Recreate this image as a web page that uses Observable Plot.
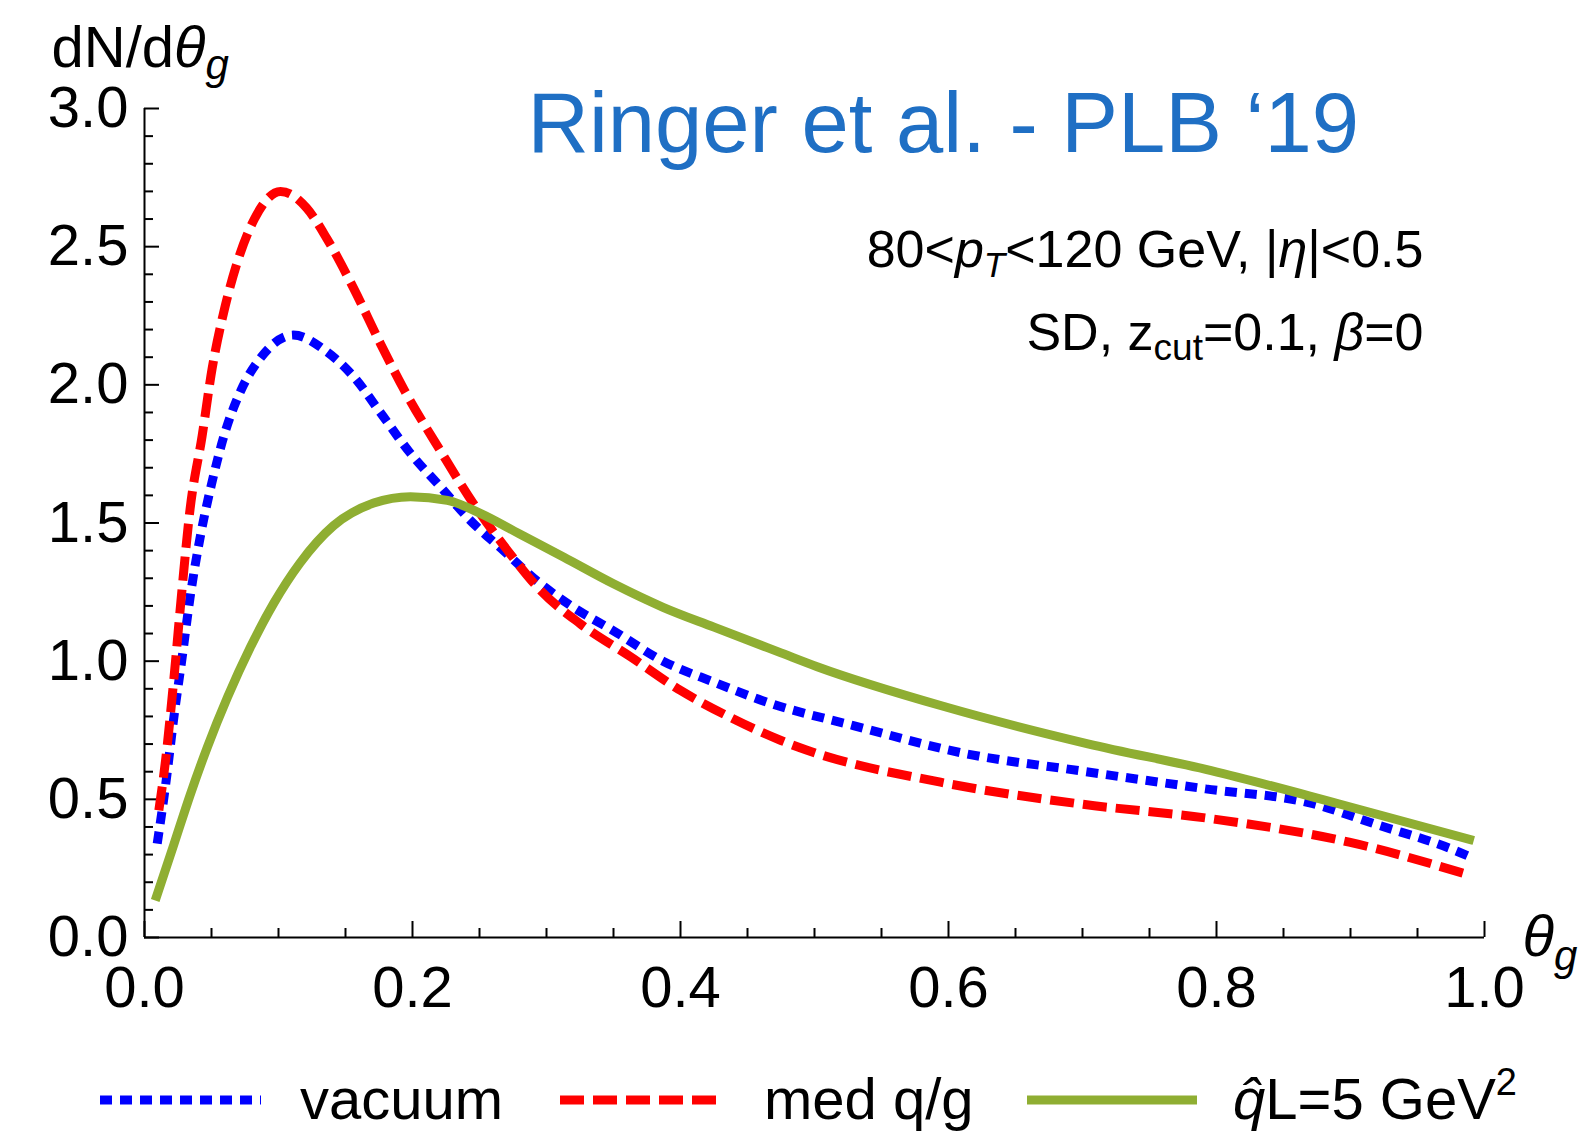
<!DOCTYPE html>
<html>
<head>
<meta charset="utf-8">
<script src="https://cdn.jsdelivr.net/npm/d3@7"></script>
<script src="https://cdn.jsdelivr.net/npm/@observablehq/plot@0.6"></script>
<style>
html, body { margin: 0; padding: 0; background: #fff; width: 1593px; height: 1133px; overflow: hidden; }
body { font-family: "Liberation Sans", Arial, Helvetica, sans-serif; }
#chart svg, #legend svg { display: block; }
</style>
</head>
<body>
<div id="chart"></div>
<div id="legend"></div>
<script>
// ---- data ----
const thetaVac = [0.0095, 0.0157, 0.022, 0.028, 0.034, 0.042, 0.050, 0.059, 0.072, 0.087, 0.111, 0.136, 0.156, 0.176, 0.198, 0.221, 0.243, 0.268, 0.293, 0.320, 0.350, 0.387, 0.425, 0.468, 0.529, 0.613, 0.697, 0.792, 0.872, 0.918, 0.978, 0.990];
const vacuum   = [0.34, 0.55, 0.80, 1.01, 1.23, 1.46, 1.64, 1.81, 1.98, 2.10, 2.18, 2.12, 2.03, 1.90, 1.755, 1.63, 1.51, 1.40, 1.29, 1.195, 1.11, 1.00, 0.924, 0.846, 0.767, 0.665, 0.604, 0.538, 0.484, 0.411, 0.315, 0.29];

const thetaMed = [0.0107, 0.0157, 0.022, 0.028, 0.034, 0.043, 0.0505, 0.059, 0.069, 0.082, 0.1015, 0.121, 0.136, 0.156, 0.176, 0.194, 0.221, 0.2455, 0.271, 0.2955, 0.325, 0.363, 0.400, 0.437, 0.475, 0.495, 0.594, 0.697, 0.796, 0.899, 0.990];
const medQG    = [0.46, 0.64, 0.94, 1.26, 1.55, 1.815, 2.06, 2.26, 2.44, 2.60, 2.70, 2.64, 2.53, 2.35, 2.15, 1.98, 1.76, 1.57, 1.40, 1.256, 1.136, 1.015, 0.894, 0.797, 0.713, 0.677, 0.562, 0.484, 0.43, 0.345, 0.224];

const thetaQhat = [0.008, 0.022, 0.034, 0.047, 0.062, 0.079, 0.0965, 0.116, 0.141, 0.171, 0.1985, 0.226, 0.251, 0.280, 0.313, 0.350, 0.387, 0.425, 0.475, 0.502, 0.598, 0.704, 0.796, 0.891, 0.992];
const qhatL5    = [0.134, 0.338, 0.515, 0.69, 0.87, 1.05, 1.21, 1.355, 1.49, 1.572, 1.595, 1.582, 1.534, 1.46, 1.376, 1.28, 1.195, 1.123, 1.03, 0.98, 0.834, 0.701, 0.604, 0.484, 0.351];

const xMajorTicks = [0, 0.2, 0.4, 0.6, 0.8, 1.0];
const xMinorTicks = [0.05, 0.1, 0.15, 0.25, 0.3, 0.35, 0.45, 0.5, 0.55, 0.65, 0.7, 0.75, 0.85, 0.9, 0.95];
const yMajorTicks = [0, 0.5, 1.0, 1.5, 2.0, 2.5, 3.0];
const yMinorTicks = [0.1, 0.2, 0.3, 0.4, 0.6, 0.7, 0.8, 0.9, 1.1, 1.2, 1.3, 1.4, 1.6, 1.7, 1.8, 1.9, 2.1, 2.2, 2.3, 2.4, 2.6, 2.7, 2.8, 2.9];

const seriesNames = ["vacuum", "med q/g", "q̂L=5 GeV²"];
const seriesColors = ["#0000ff", "#ff0000", "#8fae32"];
const seriesDash = ["12,8", "24,9", null];

const titleText = "Ringer et al. - PLB ‘19";
const note1 = "80<pT<120 GeV, |η|<0.5";
const note2 = "SD, zcut=0.1, β=0";
const yLabel = "dN/dθg";
const xLabel = "θg";

// ---- build tables ----
const toRows = (xs, ys) => xs.map((x, i) => ({x, y: ys[i]}));
const vacRows = toRows(thetaVac, vacuum);
const medRows = toRows(thetaMed, medQG);
const qRows = toRows(thetaQhat, qhatL5);

const W = 1593, H = 1040;
const mL = 144, mR = 109, mT = 108, mB = 103;
const innerW = W - mL - mR, innerH = H - mT - mB;
const FONT = '"Liberation Sans", Arial, Helvetica, sans-serif';

const lineOpts = (i) => ({
  x: "x", y: "y", stroke: seriesColors[i], strokeWidth: 9,
  strokeDasharray: seriesDash[i] || undefined,
  strokeLinecap: "butt", strokeLinejoin: "round", curve: "monotone-x"
});

const plot = Plot.plot({
  width: W, height: H,
  marginLeft: mL, marginRight: mR, marginTop: mT, marginBottom: mB,
  style: {fontFamily: FONT, fontSize: "58px", color: "black", background: "white", overflow: "visible"},
  x: {domain: [0, 1]},
  y: {domain: [0, 3]},
  marks: [
    Plot.axisX(xMajorTicks, {tickSize: 0, tickPadding: 28, tickFormat: d3.format(".1f"), label: null, fontSize: 58}),
    Plot.axisY(yMajorTicks, {tickSize: 0, tickPadding: 16, tickFormat: d3.format(".1f"), label: null, fontSize: 58}),
    Plot.tickX(xMinorTicks, {x: d => d, insetTop: innerH - 9, stroke: "black", strokeWidth: 2}),
    Plot.tickX(xMajorTicks, {x: d => d, insetTop: innerH - 16, stroke: "black", strokeWidth: 2}),
    Plot.tickY(yMinorTicks, {y: d => d, insetRight: innerW - 9, stroke: "black", strokeWidth: 2}),
    Plot.tickY(yMajorTicks, {y: d => d, insetRight: innerW - 15, stroke: "black", strokeWidth: 2}),
    Plot.ruleX([0], {stroke: "black", strokeWidth: 2}),
    Plot.ruleY([0], {stroke: "black", strokeWidth: 2}),
    Plot.line(vacRows, lineOpts(0)),
    Plot.line(medRows, lineOpts(1)),
    Plot.line(qRows, lineOpts(2)),
    Plot.text([titleText], {text: d => d, frameAnchor: "top-left", textAnchor: "start", lineAnchor: "bottom", dx: 383, dy: 43, fontSize: 85, fill: "#1f6fc4"}),
    Plot.text([note1], {text: d => d, frameAnchor: "top-right", textAnchor: "end", lineAnchor: "bottom", dx: -61, dy: 158, fontSize: 52, fill: "black"}),
    Plot.text([note2], {text: d => d, frameAnchor: "top-right", textAnchor: "end", lineAnchor: "bottom", dx: -61, dy: 241, fontSize: 52, fill: "black"}),
    Plot.text([yLabel], {text: d => d, frameAnchor: "top-left", textAnchor: "start", lineAnchor: "bottom", dx: -93, dy: -42, fontSize: 58, fill: "black"}),
    Plot.text([xLabel], {text: d => d, frameAnchor: "bottom-right", textAnchor: "start", lineAnchor: "bottom", dx: 38, dy: 18, fontSize: 58, fill: "black"})
  ]
});

// rich text (italics / subscripts)
const rich = {
  [note1]: '80&lt;<tspan font-style="italic">p</tspan><tspan font-style="italic" font-size="35" dy="10">T</tspan><tspan dy="-10">&lt;120 GeV, |</tspan><tspan font-style="italic">η</tspan>|&lt;0.5',
  [note2]: 'SD, z<tspan font-size="37" dy="10">cut</tspan><tspan dy="-10">=0.1, </tspan><tspan font-style="italic">β</tspan>=0',
  [yLabel]: 'dN/d<tspan font-style="italic">θ</tspan><tspan font-style="italic" font-size="42" dy="12">g</tspan>',
  [xLabel]: '<tspan font-style="italic">θ</tspan><tspan font-style="italic" font-size="42" dy="14">g</tspan>'
};
plot.querySelectorAll("text").forEach(t => {
  const key = t.textContent;
  if (rich[key] !== undefined) t.innerHTML = rich[key];
});
document.getElementById("chart").appendChild(plot);

// ---- legend below the plot ----
const ns = "http://www.w3.org/2000/svg";
const leg = document.createElementNS(ns, "svg");
leg.setAttribute("width", W);
leg.setAttribute("height", 93);
leg.style.fontFamily = FONT;
const swatchX = [[100, 261], [560, 722], [1027, 1197]];
const labelX = [300, 764, 1233];
const labelHTML = [
  'vacuum',
  'med q/g',
  '<tspan font-style="italic">q̂</tspan>L=5 GeV<tspan font-size="38" dy="-24">2</tspan>'
];
seriesNames.forEach((name, i) => {
  const ln = document.createElementNS(ns, "line");
  ln.setAttribute("x1", swatchX[i][0]);
  ln.setAttribute("x2", swatchX[i][1]);
  ln.setAttribute("y1", 60);
  ln.setAttribute("y2", 60);
  ln.setAttribute("stroke", seriesColors[i]);
  ln.setAttribute("stroke-width", 9);
  if (seriesDash[i]) ln.setAttribute("stroke-dasharray", seriesDash[i]);
  leg.appendChild(ln);
  const tx = document.createElementNS(ns, "text");
  tx.setAttribute("x", labelX[i]);
  tx.setAttribute("y", 79);
  tx.setAttribute("font-size", 58);
  tx.setAttribute("fill", "black");
  tx.innerHTML = labelHTML[i];
  tx.setAttribute("aria-label", name);
  leg.appendChild(tx);
});
document.getElementById("legend").appendChild(leg);
</script>
</body>
</html>
